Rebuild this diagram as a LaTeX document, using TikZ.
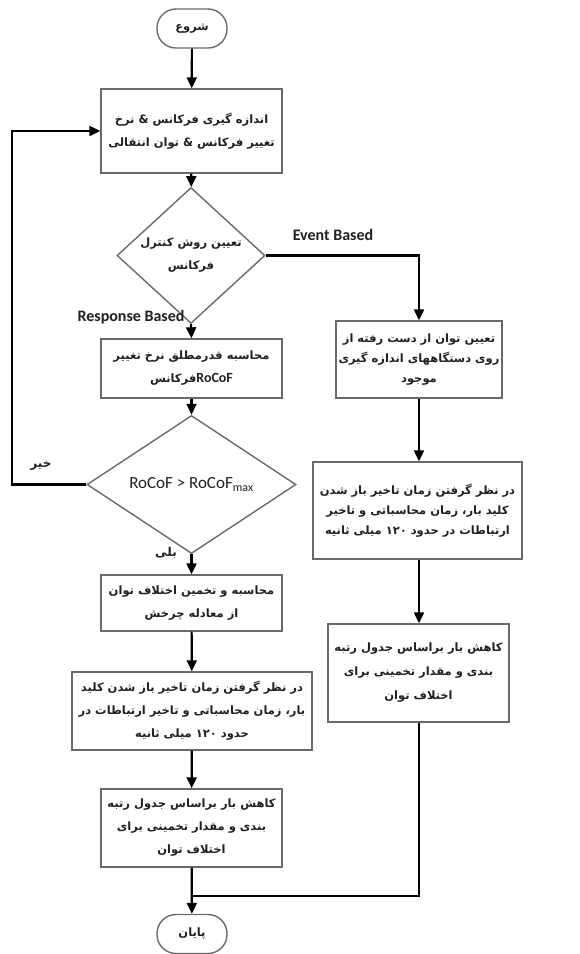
\documentclass[tikz,border=0pt]{standalone}
\usepackage{fontspec}
\setmainfont{Carlito}
\newfontfamily\fa[Script=Arabic]{DejaVu Sans}
\newfontfamily\lat{Carlito}
\TeXXeTstate=1
\usetikzlibrary{shapes.geometric,arrows.meta}
\definecolor{boxline}{HTML}{6A6A6A}
\definecolor{txt}{HTML}{202020}
\tikzset{
  fatext/.style={font=\fa\bfseries\fontsize{11.5}{23}\selectfont, text=txt, align=center},
  procbox/.style={draw=boxline, line width=1.4pt, rectangle, inner sep=2pt, fatext},
  termbox/.style={draw=boxline, line width=1.4pt, rectangle, rounded corners=19pt, minimum width=70pt, minimum height=39pt, inner sep=0pt, fatext},
  decbox/.style={draw=boxline, line width=1.4pt, diamond, inner sep=0pt, fatext},
  conn/.style={draw=black, line width=2.2pt},
  arr/.style={conn, -{Triangle[length=11pt,width=10pt]}},
  latlabel/.style={font=\lat\bfseries\fontsize{16}{18}\selectfont, text=txt, inner sep=0pt},
  falabel/.style={font=\fa\bfseries\fontsize{12}{14}\selectfont, text=txt, inner sep=0pt}
}
\begin{document}
\begin{tikzpicture}[x=1pt,y=-1pt]
\useasboundingbox (0,0) rectangle (579,954);
% left column
\node[termbox] (start) at (192,28.5) {\beginR شروع\endR};
\node[procbox, minimum width=181pt, minimum height=84pt] (meas) at (191.5,131)
  {\beginR اندازه گیری فرکانس \& نرخ\endR\\\beginR تغییر فرکانس \& توان انتقالی\endR};
\node[decbox, minimum width=148pt, minimum height=81pt] (method) at (191,255.5)
  {\beginR تعیین روش کنترل\endR\\\beginR فرکانس\endR};
\node[procbox, minimum width=181pt, minimum height=59pt] (rocof) at (191.5,368.5)
  {\beginR محاسبه قدرمطلق نرخ تغییر\endR\\\beginR\beginL{\lat\bfseries\fontsize{14}{16}\selectfont RoCoF}\endL فرکانس\endR};
\node[decbox, minimum width=209pt, minimum height=95pt, font=\lat\fontsize{17}{20}\selectfont] (cmp) at (191.5,484.5)
  {RoCoF > RoCoF$_{\mathrm{max}}$};
\node[procbox, minimum width=181pt, minimum height=56pt] (calc) at (191.5,603)
  {\beginR محاسبه و تخمین اختلاف توان\endR\\\beginR از معادله چرخش\endR};
\node[procbox, minimum width=240pt, minimum height=78pt] (delay) at (192,711)
  {\beginR در نظر گرفتن زمان تاخیر باز شدن کلید\endR\\\beginR بار، زمان محاسباتی و تاخیر ارتباطات در\endR\\\beginR حدود \beginL ۱۲۰\endL{} میلی ثانیه\endR};
\node[procbox, minimum width=181pt, minimum height=78pt] (shed) at (191.5,828)
  {\beginR کاهش بار براساس جدول رتبه\endR\\\beginR بندی و مقدار تخمینی برای\endR\\\beginR اختلاف توان\endR};
\node[termbox] (stop) at (192,934) {\beginR پایان\endR};
% right column
\node[procbox, minimum width=166pt, minimum height=77pt, font=\fa\bfseries\fontsize{11.5}{20}\selectfont] (lost) at (419,359.5)
  {\beginR تعیین توان از دست رفته از\endR\\\beginR روی دستگاههای اندازه گیری\endR\\\beginR موجود\endR};
\node[procbox, minimum width=209pt, minimum height=97pt, font=\fa\bfseries\fontsize{11.5}{20}\selectfont] (rdelay) at (417.5,510.5)
  {\beginR در نظر گرفتن زمان تاخیر باز شدن\endR\\\beginR کلید بار، زمان محاسباتی و تاخیر\endR\\\beginR ارتباطات در حدود \beginL ۱۲۰\endL{} میلی ثانیه\endR};
\node[procbox, minimum width=181pt, minimum height=98pt, font=\fa\bfseries\fontsize{11.5}{24}\selectfont] (rshed) at (418.5,673)
  {\beginR کاهش بار براساس جدول رتبه\endR\\\beginR بندی و مقدار تخمینی برای\endR\\\beginR اختلاف توان\endR};
% labels
\node[latlabel] (evlab) at (333,235) {Event Based};
\node[latlabel] (rslab) at (131,317) {Response Based};
\node[falabel] (nolab) at (41,466) {\beginR خیر\endR};
\node[falabel] (yeslab) at (166,553) {\beginR بلی\endR};
% helper coordinates
\coordinate (fb) at (12,484.5);
\coordinate (join) at (192,896);
% connectors
\draw[arr] (start) -- (meas);
\draw[arr] (meas) -- (method);
\draw[arr] (method.south) -- (rocof.north);
\draw[arr] (rocof) -- (cmp);
\draw[arr] (cmp.west) -- (fb) |- (meas.west);
\draw[arr] (cmp.south) -- (calc.north);
\draw[arr] (calc) -- (delay);
\draw[arr] (delay) -- (shed);
\draw[arr] (shed) -- (stop);
\draw[arr] (method.east) -| (419,0 |- lost.north);
\draw[arr] (lost.south -| 419,0) -- (rdelay.north -| 419,0);
\draw[arr] (rdelay.south -| 419,0) -- (rshed.north -| 419,0);
\draw[conn] (rshed.south -| 419,0) |- (join);
\end{tikzpicture}
\end{document}
